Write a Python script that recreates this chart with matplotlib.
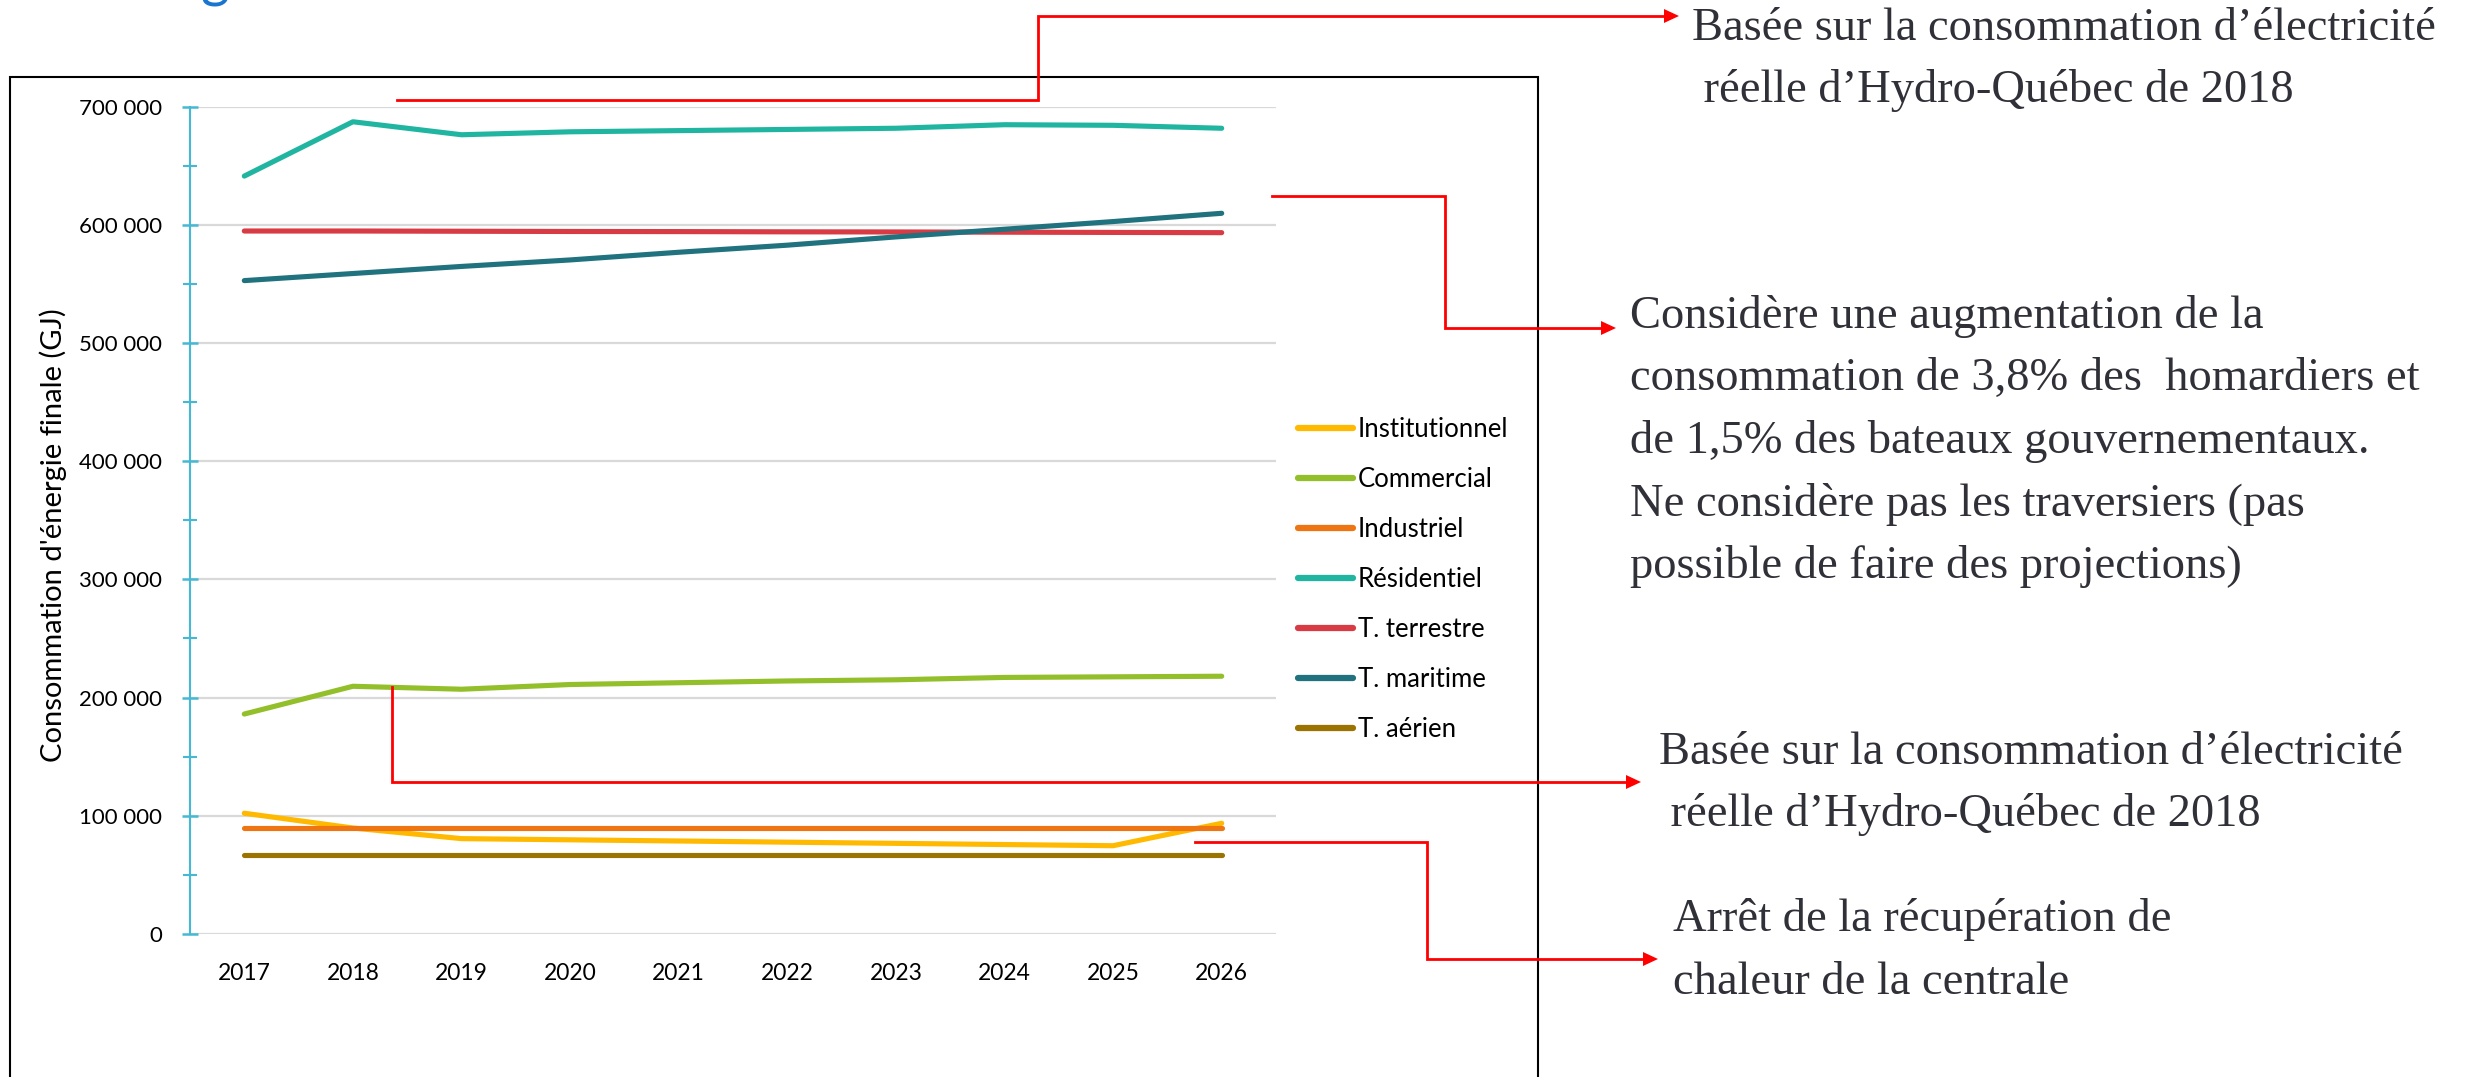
import matplotlib
matplotlib.use("Agg")
import matplotlib.pyplot as plt
from matplotlib.lines import Line2D
from matplotlib.patches import Polygon, Rectangle
from matplotlib.ticker import FuncFormatter, MultipleLocator

W, H = 2467, 1077

years = ["2017", "2018", "2019", "2020", "2021", "2022", "2023", "2024", "2025", "2026"]

institutionnel = [102000, 89500, 80500, 79500, 78500, 77500, 76500, 75500, 74500, 93500]
commercial = [186000, 209500, 207000, 211000, 212500, 214000, 215000, 217000, 217500, 218000]
industriel = [89600, 89600, 89600, 89600, 89600, 89600, 89600, 89600, 89600, 89600]
residentiel = [641500, 687500, 676500, 679000, 680000, 681000, 682000, 685000, 684500, 682000]
terrestre = [595000, 595000, 594800, 594600, 594500, 594300, 594200, 594000, 593800, 593600]
maritime = [553000, 559000, 565000, 570500, 577000, 583000, 590000, 596500, 603000, 610000]
aerien = [66700, 66700, 66700, 66700, 66700, 66700, 66700, 66700, 66700, 66700]

series = [
    ("Institutionnel", institutionnel, "#FFB900"),
    ("Commercial", commercial, "#92BF2A"),
    ("Industriel", industriel, "#EE7512"),
    ("Résidentiel", residentiel, "#20B5A0"),
    ("T. terrestre", terrestre, "#D83B44"),
    ("T. maritime", maritime, "#20727F"),
    ("T. aérien", aerien, "#9B7300"),
]

notes = [
    ["Basée sur la consommation d’électricité", " réelle d’Hydro-Québec de 2018"],
    ["Considère une augmentation de la",
     "consommation de 3,8% des  homardiers et",
     "de 1,5% des bateaux gouvernementaux.",
     "Ne considère pas les traversiers (pas",
     "possible de faire des projections)"],
    ["Basée sur la consommation d’électricité", " réelle d’Hydro-Québec de 2018"],
    ["Arrêt de la récupération de", "chaleur de la centrale"],
]

plt.rcParams["font.family"] = ["Lato", "DejaVu Sans"]

fig = plt.figure(figsize=(W / 100, H / 100), dpi=100)


def fpx(x, y):
    # pixel position measured from the top-left corner -> figure fraction
    return x / W, 1 - y / H


# axes box in pixels
left, right, top, bottom = 190, 1276, 107, 933.7
ax = fig.add_axes([left / W, 1 - bottom / H, (right - left) / W, (bottom - top) / H])

x = range(len(years))
for name, vals, col in series:
    ax.plot(x, vals, color=col, lw=3.7, solid_capstyle="round", label=name)

ax.set_xlim(-0.5, len(years) - 0.5)
ax.set_ylim(0, 700000)
ax.set_xticks(list(x))
ax.set_xticklabels(years)
ax.yaxis.set_major_locator(MultipleLocator(100000))
ax.yaxis.set_minor_locator(MultipleLocator(50000))
ax.yaxis.set_major_formatter(FuncFormatter(lambda v, p: f"{int(v):,}".replace(",", " ")))

for s in ["top", "right", "bottom"]:
    ax.spines[s].set_visible(False)
ax.spines["left"].set_color("#45B8D4")
ax.spines["left"].set_linewidth(1.5)

ax.grid(axis="y", color="#D9D9D9", lw=1.6)
ax.set_axisbelow(True)
ax.tick_params(axis="y", which="major", direction="inout", length=12, width=1.8,
               color="#45B8D4", labelsize=16, pad=14)
ax.tick_params(axis="y", which="minor", direction="inout", length=10, width=1.5,
               color="#45B8D4")
ax.tick_params(axis="x", length=0, labelsize=16.5, pad=21)

fig.text(*fpx(53, 535), "Consommation d'énergie finale (GJ)", rotation=90,
         ha="center", va="center", fontsize=21)

leg = ax.legend(loc="upper left", bbox_to_anchor=fpx(1298, 417), bbox_transform=fig.transFigure,
                frameon=False, fontsize=18.5, handlelength=2.15, handletextpad=0.18,
                labelspacing=0.97, borderpad=0, borderaxespad=0)
for h in leg.get_lines():
    h.set_linewidth(4.5)
    h.set_solid_capstyle("round")

# frame around the chart, open at the bottom edge
fig.add_artist(Rectangle(fpx(10, 1090), (1538 - 10) / W, (1090 - 77) / H,
                         transform=fig.transFigure, fill=False, ec="black", lw=1.5))

# cut-off heading above the chart
fig.text(*fpx(200, -4), "g", color="#1A75CF", fontsize=40, va="baseline", ha="left")

# red elbow connectors to the comments
connectors = [
    [(397, 100), (1038, 100), (1038, 16), (1679, 16)],
    [(1272, 196), (1445, 196), (1445, 328), (1616, 328)],
    [(392, 687), (392, 782), (1641, 782)],
    [(1195, 842), (1427, 842), (1427, 959), (1658, 959)],
]
for pts in connectors:
    tx, ty = pts[-1]
    path = pts[:-1] + [(tx - 10, ty)]
    xs, ys = zip(*[fpx(px, py) for px, py in path])
    fig.add_artist(Line2D(xs, ys, transform=fig.transFigure, color="#FF0000", lw=2.0,
                          solid_joinstyle="miter"))
    head = [fpx(tx, ty), fpx(tx - 15, ty - 7), fpx(tx - 15, ty + 7)]
    fig.add_artist(Polygon(head, closed=True, transform=fig.transFigure,
                           color="#FF0000", lw=0))

# comment texts, one line at a time (x of first letter, first baseline)
note_pos = [(1692, 40), (1630, 328), (1659, 764), (1673, 931)]
for lines, (nx, ny) in zip(notes, note_pos):
    for i, line in enumerate(lines):
        fig.text(*fpx(nx, ny + i * 62.5), line, family="Liberation Serif",
                 fontsize=33.5, color="#303038", ha="left", va="baseline")

fig.savefig("out.png", dpi=100)
